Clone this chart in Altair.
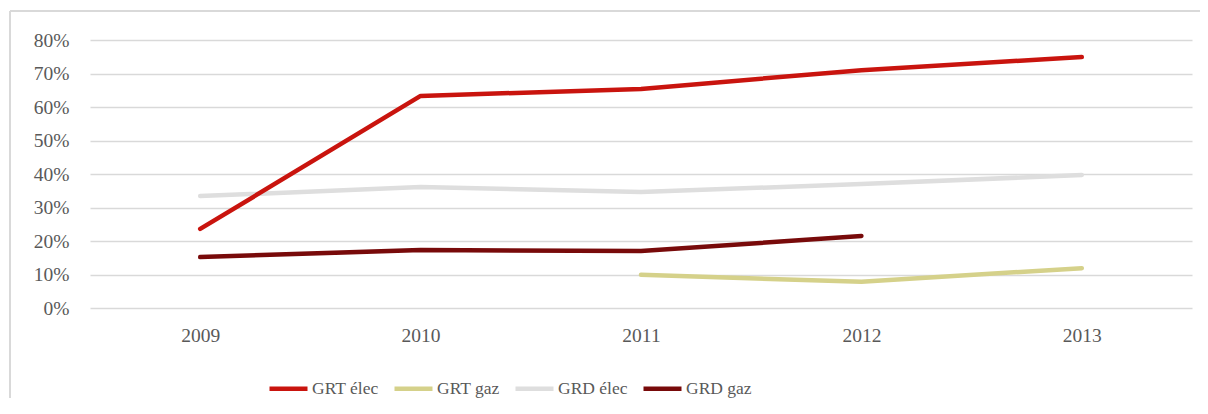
import altair as alt
import pandas as pd

years = ["2009", "2010", "2011", "2012", "2013"]
series_names = ["GRT élec", "GRT gaz", "GRD élec", "GRD gaz"]
colors = ["#C9140E", "#D5D18A", "#DEDEDE", "#780A0A"]

grt_elec = [0.236, 0.633, 0.654, 0.710, 0.749]
grt_gaz = [None, None, 0.099, 0.078, 0.119]
grd_elec = [0.334, 0.361, 0.346, 0.370, 0.397]
grd_gaz = [0.152, 0.173, 0.170, 0.215, None]

# drawing order: the red series last so it sits on top
draw_order = [("GRT gaz", grt_gaz), ("GRD élec", grd_elec), ("GRD gaz", grd_gaz), ("GRT élec", grt_elec)]
rows = []
for name, vals in draw_order:
    for y, v in zip(years, vals):
        if v is not None:
            rows.append({"year": y, "value": v, "series": name})
df = pd.DataFrame(rows)

FONT = "Liberation Serif"
W, H = 1102, 268
PAD_B = 90

lines = alt.Chart(df).mark_line(strokeWidth=4.5, strokeCap="round", strokeJoin="round").encode(
    x=alt.X("year:O", sort=years, scale=alt.Scale(type="point", padding=0.5),
            axis=alt.Axis(title=None, labelAngle=0, ticks=False, domain=False, grid=False,
                          labelPadding=18, labelFontSize=19.5, labelColor="#595959", labelFont=FONT)),
    y=alt.Y("value:Q", scale=alt.Scale(domain=[0, 0.8], nice=False),
            axis=alt.Axis(title=None, format=".0%", values=[0, 0.1, 0.2, 0.3, 0.4, 0.5, 0.6, 0.7, 0.8],
                          ticks=False, domain=False, grid=True, gridColor="#D9D9D9", gridWidth=1.5,
                          labelPadding=21, labelFontSize=19.5, labelColor="#595959", labelFont=FONT)),
    color=alt.Color("series:N", scale=alt.Scale(domain=series_names, range=colors),
                    legend=alt.Legend(title=None, orient="none", direction="horizontal",
                                      legendX=177, legendY=327, symbolType="stroke",
                                      symbolSize=1444, symbolStrokeWidth=4.5, labelOffset=2,
                                      columnPadding=6, labelFontSize=17.5, labelColor="#595959",
                                      labelFont=FONT)),
    detail="series:N",
)

frame_top = alt.Chart(alt.Data(values=[{}])).mark_rule(color="#D9D9D9", strokeWidth=2).encode(
    x=alt.value(-80), x2=alt.value(W + 30), y=alt.value(-29)
)
frame_left = alt.Chart(alt.Data(values=[{}])).mark_rule(color="#D9D9D9", strokeWidth=2).encode(
    x=alt.value(-80), y=alt.value(-29), y2=alt.value(H + PAD_B + 40)
)

chart = alt.layer(frame_top, frame_left, lines).properties(
    width=W, height=H,
    autosize=alt.AutoSizeParams(type="none"),
    padding={"left": 82, "top": 32, "right": 8, "bottom": PAD_B},
    background="white",
).configure_view(stroke=None)

chart.save("out.html", embed_options={"renderer": "svg", "actions": False})
